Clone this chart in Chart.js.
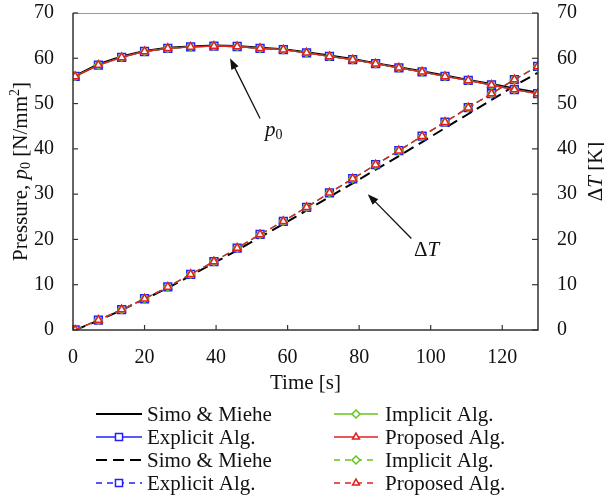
<!DOCTYPE html>
<html>
<head>
<meta charset="utf-8">
<script src="https://cdn.jsdelivr.net/npm/chart.js@4.4.0/dist/chart.umd.min.js"></script>
<style>
  html, body { margin: 0; padding: 0; background: #fff; }
</style>
</head>
<body>
<canvas id="chart" width="604" height="498"></canvas>
<script>
// time [s] of each output step
const times = [0.6, 7.1, 13.6, 20.0, 26.5, 32.9, 39.4, 45.9, 52.3, 58.8, 65.3,
               71.7, 78.2, 84.6, 91.1, 97.6, 104.0, 110.5, 117.0, 123.4, 129.9];
// pressure p0 [N/mm2]
const pressureSimo = [56.1, 58.7, 60.4, 61.6, 62.3, 62.6, 62.8, 62.7, 62.3, 62.0, 61.3,
                      60.6, 59.8, 58.9, 58.0, 57.1, 56.2, 55.2, 54.3, 53.3, 52.4];
const pressureAlg  = [56.0, 58.5, 60.2, 61.5, 62.2, 62.5, 62.7, 62.6, 62.2, 61.9, 61.2,
                      60.4, 59.7, 58.8, 57.9, 57.0, 56.0, 55.1, 54.1, 53.1, 52.2];
// temperature rise dT [K]
const tempSimo = [0.0, 2.1, 4.4, 6.8, 9.3, 12.0, 14.8, 17.6, 20.5, 23.4, 26.4,
                  29.4, 32.4, 35.4, 38.4, 41.5, 44.6, 47.7, 50.8, 53.9, 56.8];
const tempAlg  = [0.0, 2.2, 4.5, 6.9, 9.5, 12.3, 15.1, 18.1, 21.1, 24.0, 27.1,
                  30.3, 33.4, 36.5, 39.6, 42.8, 45.9, 49.1, 52.2, 55.3, 58.2];

const xTicks = [0, 20, 40, 60, 80, 100, 120];
const yTicks = [0, 10, 20, 30, 40, 50, 60, 70];

const BLUE = '#2020ff';
const GREEN = '#66c41e';
const RED = '#e02020';
const SERIF = '"Liberation Serif", "DejaVu Serif", serif';

function pts(values) {
  return times.map((t, i) => ({ x: t, y: values[i] }));
}

const solidDash = [];
const blackDash = [11, 6];
const colorDash = [7, 4];

const datasets = [
  { label: 'Simo & Miehe', data: pts(pressureSimo), borderColor: '#000', borderWidth: 2.2,
    pointRadius: 0, yAxisID: 'y', order: 4, borderDash: solidDash },
  { label: 'Explicit Alg.', data: pts(pressureAlg), borderColor: BLUE, borderWidth: 1.3,
    pointStyle: 'rect', pointRadius: 5.5, yAxisID: 'y', order: 3, borderDash: solidDash },
  { label: 'Implicit Alg.', data: pts(pressureAlg), borderColor: GREEN, borderWidth: 1.3,
    pointStyle: 'rectRot', pointRadius: 4, yAxisID: 'y', order: 2, borderDash: solidDash },
  { label: 'Proposed Alg.', data: pts(pressureAlg), borderColor: RED, borderWidth: 1.3,
    pointStyle: 'triangle', pointRadius: 4.5, yAxisID: 'y', order: 1, borderDash: solidDash },
  { label: 'Simo & Miehe', data: pts(tempSimo), borderColor: '#000', borderWidth: 2,
    pointRadius: 0, yAxisID: 'y2', order: 8, borderDash: blackDash },
  { label: 'Explicit Alg.', data: pts(tempAlg), borderColor: BLUE, borderWidth: 1.3,
    pointStyle: 'rect', pointRadius: 5.5, yAxisID: 'y2', order: 7, borderDash: colorDash },
  { label: 'Implicit Alg.', data: pts(tempAlg), borderColor: GREEN, borderWidth: 1.3,
    pointStyle: 'rectRot', pointRadius: 4, yAxisID: 'y2', order: 6, borderDash: colorDash },
  { label: 'Proposed Alg.', data: pts(tempAlg), borderColor: RED, borderWidth: 1.3,
    pointStyle: 'triangle', pointRadius: 4.5, yAxisID: 'y2', order: 5, borderDash: colorDash }
];
datasets.forEach(d => {
  d.pointBorderColor = d.borderColor;
  d.pointBackgroundColor = '#fff';
  d.pointBorderWidth = 1.5;
  d.fill = false;
  d.tension = 0;
});

// legend columns (dataset indices)
const legendCols = [[0, 1, 4, 5], [2, 3, 6, 7]];

// annotations in data coords (x: time, y: left axis value)
const arrowP = { from: [52.3, 46.7], to: [43.9, 60.0], label: [53.7, 42.8] };
const arrowT = { from: [94.6, 20.2], to: [82.4, 30.0], label: [95.3, 16.3] };

function drawRich(ctx, segs, x, y) {
  let cx = x;
  segs.forEach(s => {
    ctx.font = s.font;
    ctx.fillText(s.text, cx, y + (s.dy || 0));
    cx += ctx.measureText(s.text).width;
  });
  return cx - x;
}
function richWidth(ctx, segs) {
  let w = 0;
  segs.forEach(s => { ctx.font = s.font; w += ctx.measureText(s.text).width; });
  return w;
}

function marker(ctx, style, r, x, y, color) {
  ctx.save();
  ctx.strokeStyle = color;
  ctx.fillStyle = '#fff';
  ctx.lineWidth = 1.5;
  ctx.setLineDash([]);
  ctx.beginPath();
  if (style === 'rect') {
    const s = r / Math.SQRT2;
    ctx.rect(x - s, y - s, 2 * s, 2 * s);
  } else if (style === 'rectRot') {
    ctx.moveTo(x, y - r); ctx.lineTo(x + r, y); ctx.lineTo(x, y + r); ctx.lineTo(x - r, y);
    ctx.closePath();
  } else if (style === 'triangle') {
    ctx.moveTo(x, y - r);
    ctx.lineTo(x + r * 0.866, y + r * 0.5);
    ctx.lineTo(x - r * 0.866, y + r * 0.5);
    ctx.closePath();
  }
  ctx.fill();
  ctx.stroke();
  ctx.restore();
}

function arrow(ctx, x1, y1, x2, y2) {
  const a = Math.atan2(y2 - y1, x2 - x1);
  const len = 11, w = 4;
  ctx.beginPath();
  ctx.moveTo(x1, y1);
  ctx.lineTo(x2 - len * 0.8 * Math.cos(a), y2 - len * 0.8 * Math.sin(a));
  ctx.stroke();
  ctx.beginPath();
  ctx.moveTo(x2, y2);
  ctx.lineTo(x2 - len * Math.cos(a) + w * Math.sin(a), y2 - len * Math.sin(a) - w * Math.cos(a));
  ctx.lineTo(x2 - len * Math.cos(a) - w * Math.sin(a), y2 - len * Math.sin(a) + w * Math.cos(a));
  ctx.closePath();
  ctx.fill();
}

const decorPlugin = {
  id: 'decor',
  afterDraw(chart) {
    const ctx = chart.ctx;
    const a = chart.chartArea;
    const sx = chart.scales.x, sy = chart.scales.y, sy2 = chart.scales.y2;
    ctx.save();

    // frame
    ctx.lineWidth = 1;
    ctx.strokeStyle = '#9a9a9a';
    ctx.beginPath(); ctx.moveTo(a.left, a.top + 0.5); ctx.lineTo(a.right, a.top + 0.5); ctx.stroke();
    ctx.strokeStyle = '#333';
    ctx.lineWidth = 1.5;
    ctx.beginPath();
    ctx.moveTo(a.left, a.top); ctx.lineTo(a.left, a.bottom); ctx.lineTo(a.right, a.bottom);
    ctx.lineTo(a.right, a.top);
    ctx.stroke();

    // inward tick marks
    ctx.lineWidth = 1.2;
    xTicks.forEach(v => {
      const px = sx.getPixelForValue(v);
      ctx.beginPath(); ctx.moveTo(px, a.bottom); ctx.lineTo(px, a.bottom - 5); ctx.stroke();
    });
    yTicks.forEach(v => {
      const py = sy.getPixelForValue(v);
      ctx.beginPath(); ctx.moveTo(a.left, py); ctx.lineTo(a.left + 5, py); ctx.stroke();
      const py2 = sy2.getPixelForValue(v);
      ctx.beginPath(); ctx.moveTo(a.right, py2); ctx.lineTo(a.right - 6, py2); ctx.stroke();
    });

    // annotations
    ctx.strokeStyle = '#111';
    ctx.fillStyle = '#111';
    ctx.lineWidth = 1.3;
    [arrowP, arrowT].forEach(ar => {
      arrow(ctx, sx.getPixelForValue(ar.from[0]), sy.getPixelForValue(ar.from[1]),
                 sx.getPixelForValue(ar.to[0]), sy.getPixelForValue(ar.to[1]));
    });
    ctx.textBaseline = 'alphabetic';
    ctx.textAlign = 'left';
    drawRich(ctx, [
      { text: 'p', font: 'italic 21px ' + SERIF },
      { text: '0', font: '14px ' + SERIF, dy: 3 }
    ], sx.getPixelForValue(arrowP.label[0]), sy.getPixelForValue(arrowP.label[1]));
    drawRich(ctx, [
      { text: '\u0394', font: '21px ' + SERIF },
      { text: 'T', font: 'italic 21px ' + SERIF }
    ], sx.getPixelForValue(arrowT.label[0]), sy.getPixelForValue(arrowT.label[1]));

    // axis titles
    const midY = (a.top + a.bottom) / 2;
    const leftTitle = [
      { text: 'Pressure, ', font: '21px ' + SERIF },
      { text: 'p', font: 'italic 21px ' + SERIF },
      { text: '0', font: '14px ' + SERIF, dy: 3 },
      { text: ' [N/mm', font: '21px ' + SERIF },
      { text: '2', font: '14px ' + SERIF, dy: -8 },
      { text: ']', font: '21px ' + SERIF }
    ];
    ctx.save();
    ctx.translate(20, midY);
    ctx.rotate(-Math.PI / 2);
    drawRich(ctx, leftTitle, -richWidth(ctx, leftTitle) / 2, 7);
    ctx.restore();

    const rightTitle = [
      { text: '\u0394', font: '21px ' + SERIF },
      { text: 'T', font: 'italic 21px ' + SERIF },
      { text: ' [K]', font: '21px ' + SERIF }
    ];
    ctx.save();
    ctx.translate(595, midY);
    ctx.rotate(-Math.PI / 2);
    drawRich(ctx, rightTitle, -richWidth(ctx, rightTitle) / 2, 7);
    ctx.restore();

    ctx.font = '21px ' + SERIF;
    ctx.textAlign = 'center';
    ctx.fillText('Time [s]', (a.left + a.right) / 2, 389);

    // legend
    const colX = [{ x0: 96, x1: 142, tx: 147 }, { x0: 334, x1: 378, tx: 385 }];
    const rowY = [414, 437, 460, 483];
    ctx.textAlign = 'left';
    ctx.textBaseline = 'middle';
    legendCols.forEach((col, ci) => {
      const c = colX[ci];
      col.forEach((di, ri) => {
        const d = chart.data.datasets[di];
        const y = rowY[ri];
        ctx.save();
        ctx.strokeStyle = d.borderColor;
        ctx.lineWidth = d.pointRadius ? 1.3 : 2;
        ctx.setLineDash(d.borderDash.length ? (d.pointRadius ? [6, 5] : [11, 6]) : []);
        ctx.beginPath(); ctx.moveTo(c.x0, y); ctx.lineTo(c.x1, y); ctx.stroke();
        ctx.restore();
        if (d.pointRadius) {
          marker(ctx, d.pointStyle, d.pointStyle === 'rect' ? 5 : 4, (c.x0 + c.x1) / 2, y, d.borderColor);
        }
        ctx.fillStyle = '#111';
        ctx.font = '21px ' + SERIF;
        ctx.fillText(d.label, c.tx, y + 1);
      });
    });
    ctx.restore();
  }
};

const tickFont = { family: SERIF, size: 20 };

function noPad(s) {
  s.paddingTop = 0; s.paddingBottom = 0; s.paddingLeft = 0; s.paddingRight = 0;
}

new Chart(document.getElementById('chart'), {
  type: 'line',
  data: { datasets: datasets },
  options: {
    responsive: false,
    animation: false,
    devicePixelRatio: 1,
    layout: { padding: { top: 13, left: 0, right: 0, bottom: 0 } },
    plugins: { legend: { display: false }, tooltip: { enabled: false } },
    scales: {
      x: {
        type: 'linear', min: 0, max: 130,
        grid: { display: false, drawTicks: false },
        border: { display: false },
        ticks: { font: tickFont, color: '#111', padding: 16, maxRotation: 0 },
        afterBuildTicks: s => { s.ticks = xTicks.map(v => ({ value: v })); },
        afterFit: s => { s.height = 168; noPad(s); }
      },
      y: {
        position: 'left', min: 0, max: 70,
        grid: { display: false, drawTicks: false },
        border: { display: false },
        ticks: { font: tickFont, color: '#111', padding: 19 },
        afterBuildTicks: s => { s.ticks = yTicks.map(v => ({ value: v })); },
        afterFit: s => { s.width = 73; noPad(s); }
      },
      y2: {
        position: 'right', min: 0, max: 70,
        grid: { display: false, drawTicks: false },
        border: { display: false },
        ticks: { font: tickFont, color: '#111', padding: 19 },
        afterBuildTicks: s => { s.ticks = yTicks.map(v => ({ value: v })); },
        afterFit: s => { s.width = 66; noPad(s); }
      }
    }
  },
  plugins: [decorPlugin]
});
</script>
</body>
</html>
